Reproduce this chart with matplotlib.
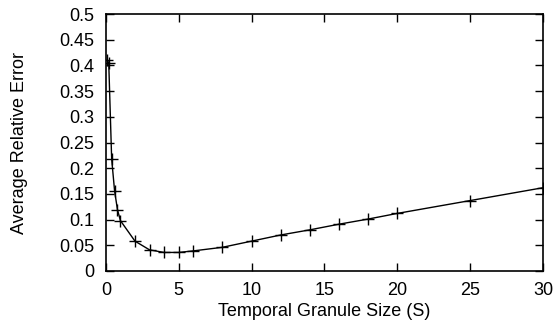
import numpy as np
import matplotlib
matplotlib.use("Agg")
import matplotlib.pyplot as plt

plt.rcParams['font.family'] = ['Liberation Sans', 'DejaVu Sans']

# granule size (s) vs average relative error
granule = [0.1, 0.2, 0.4, 0.6, 0.8, 1, 2, 3, 4, 5, 6, 8, 10, 12, 14, 16, 18, 20, 25, 30]
rel_err = [0.41, 0.405, 0.218, 0.156, 0.119, 0.098, 0.058, 0.041, 0.036, 0.036,
           0.039, 0.046, 0.058, 0.070, 0.080, 0.091, 0.101, 0.112, 0.137, 0.162]

xticks = [0, 5, 10, 15, 20, 25, 30]
yticks = [0, 0.05, 0.1, 0.15, 0.2, 0.25, 0.3, 0.35, 0.4, 0.45, 0.5]
ytick_labels = ['0', '0.05', '0.1', '0.15', '0.2', '0.25', '0.3', '0.35', '0.4', '0.45', '0.5']

fig = plt.figure(figsize=(5.57, 3.28), dpi=100)
ax = fig.add_axes([0.190, 0.174, 0.785, 0.783])

ax.plot(granule, rel_err, color='black', linewidth=1.0, marker='+',
        markersize=9, markeredgewidth=1.0)

ax.set_xlim(0, 30)
ax.set_ylim(0, 0.5)
ax.set_xticks(xticks)
ax.set_xticklabels([str(t) for t in xticks])
ax.set_yticks(yticks)
ax.set_yticklabels(ytick_labels)
ax.tick_params(direction='in', length=6, width=1, top=True, right=True,
               labelsize=13, pad=8)
for s in ax.spines.values():
    s.set_linewidth(1.2)

ax.set_xlabel('Temporal Granule Size (S)', fontsize=13, labelpad=3)
ax.set_ylabel('Average Relative Error', fontsize=13, labelpad=23)

fig.savefig('out.png', dpi=100)
